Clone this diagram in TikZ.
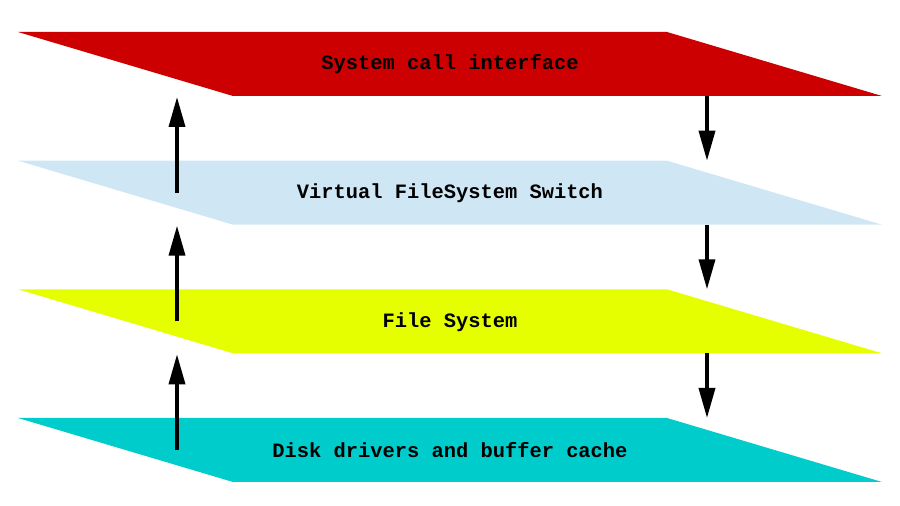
\documentclass[tikz,border=0pt]{standalone}
\usepackage{fontspec}
\setmonofont{Liberation Mono}
\usetikzlibrary{arrows.meta,positioning}
\definecolor{sciRed}{RGB}{204,0,0}
\definecolor{vfsBlue}{RGB}{207,231,245}
\definecolor{fsYellow}{RGB}{230,255,0}
\definecolor{diskCyan}{RGB}{0,204,204}
\tikzset{layertext/.style={font=\ttfamily\bfseries\fontsize{10.2}{12}\selectfont, text=black, inner sep=0pt}}
\tikzset{arr/.style={draw, line width=1.8pt, -{Triangle[length=15pt, width=8pt]}}}
% #1 name, #2 top edge, #3 colour, #4 text
\newcommand\layer[4]{
		\fill[#3] (18,#2) -- (667,#2) -- (882,#2+64) -- (233,#2+64) -- cycle;
		\node[layertext] (#1) at (450,#2+32.5) {#4};
		\coordinate (#1-mid) at (177,#2+32);
		\coordinate (#1-botl) at (177,#2+65);
		\coordinate (#1-botr) at (707,#2+64);
		\coordinate (#1-topr) at (707,#2);
	}
\begin{document}
\begin{tikzpicture}[x=0.5pt,y=-0.5pt]
                \useasboundingbox (0,0) rectangle (900,506);
                \layer{sci}{32}{sciRed}{System call interface}
                \layer{vfs}{160.7}{vfsBlue}{Virtual FileSystem Switch}
                \layer{fs}{289.3}{fsYellow}{File System}
                \layer{disk}{418}{diskCyan}{Disk drivers and buffer cache}
                
                % up the stack
                \draw[arr] (vfs-mid) -- (sci-botl);
                \draw[arr] (fs-mid) -- (vfs-botl);
                \draw[arr] (disk-mid) -- (fs-botl);
                % down the stack
                \draw[arr] (sci-botr) -- (vfs-topr);
                \draw[arr] (vfs-botr) -- (fs-topr);
                \draw[arr] (fs-botr) -- (disk-topr);
            \end{tikzpicture}
\end{document}
